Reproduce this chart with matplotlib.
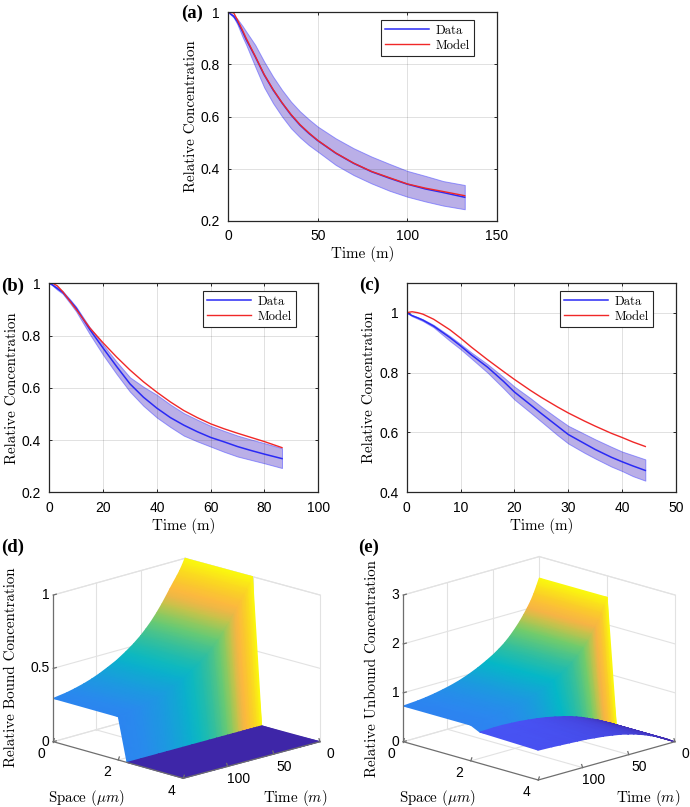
import numpy as np
import matplotlib
matplotlib.use("Agg")
import matplotlib.pyplot as plt
from matplotlib.colors import LinearSegmentedColormap

W, H = 690, 807
plt.rcParams["mathtext.fontset"] = "cm"
plt.rcParams["axes.formatter.use_mathtext"] = False

NUM_FONT = "Liberation Sans"
TEXT_FONT = "cmr10"
BLUE = "#2a2af5"
RED = "#f02828"

# panel (a)
a_time = [0, 3, 5, 8, 10, 15, 20, 25, 30, 35, 40, 45, 50, 60, 70, 80, 90, 100, 110, 120, 132]
a_data = [1, .985, .965, .925, .895, .83, .76, .702, .652, .606, .567, .535, .507, .459, .42, .388, .363, .34, .322, .308, .29]
a_model = [1, .998, .972, .93, .9, .832, .762, .704, .653, .608, .569, .537, .508, .46, .421, .389, .365, .341, .325, .312, .296]
a_upper = [1, .988, .975, .947, .926, .875, .811, .753, .702, .657, .62, .589, .561, .516, .478, .446, .418, .391, .372, .352, .337]
a_lower = [1, .98, .955, .905, .875, .792, .712, .651, .6, .555, .52, .49, .465, .414, .375, .343, .315, .292, .274, .258, .244]

# panel (b)
b_time = [0, 1, 3, 5, 8, 10, 15, 20, 25, 30, 35, 40, 45, 50, 55, 60, 65, 70, 75, 80, 86.5]
b_data = [1, .995, .98, .965, .93, .905, .824, .752, .682, .615, .564, .522, .486, .457, .432, .41, .393, .375, .36, .346, .329]
b_model = [1, 1.002, .99, .968, .927, .9, .83, .772, .718, .668, .623, .583, .546, .513, .486, .462, .443, .426, .41, .394, .371]
b_upper = [1, .997, .985, .97, .935, .91, .832, .765, .70, .64, .604, .573, .536, .503, .478, .454, .435, .417, .402, .388, .369]
b_lower = [1, .993, .975, .96, .92, .892, .806, .726, .653, .585, .531, .486, .45, .417, .395, .375, .355, .337, .324, .311, .293]

# panel (c)
c_time = [0, 1, 2, 3, 5, 8, 10, 12, 15, 18, 20, 23, 25, 28, 30, 33, 35, 38, 40, 42, 44.3]
c_data = [1, .99, .983, .975, .955, .917, .889, .859, .818, .77, .735, .692, .663, .621, .593, .563, .543, .517, .502, .488, .473]
c_model = [1, 1.003, 1, .995, .978, .943, .915, .885, .843, .803, .777, .74, .717, .685, .665, .638, .621, .597, .583, .568, .553]
c_upper = [1, .992, .985, .978, .959, .922, .895, .867, .828, .784, .753, .714, .686, .647, .622, .595, .577, .552, .536, .524, .51]
c_lower = [1, .988, .98, .972, .951, .906, .878, .847, .80, .747, .71, .666, .636, .591, .563, .532, .513, .486, .471, .454, .439]

# surfaces (d) and (e): read along edges of the plots
surf_time = [0, 3, 6, 9, 13, 17, 21, 26, 32, 38, 44, 50, 58, 67, 77, 87, 96, 105, 114, 124, 133, 148]
bound_plateau = [1, .96, .925, .895, .858, .82, .78, .732, .68, .633, .592, .555, .513, .473, .433, .402, .376, .354, .336, .32, .308, .295]
unbound_plateau = [2.56, 2.41, 2.27, 2.15, 2.02, 1.90, 1.79, 1.67, 1.54, 1.43, 1.34, 1.26, 1.17, 1.08, .995, .925, .875, .835, .80, .77, .75, .73]
unbound_ridge = [0, .03, .07, .1, .14, .18, .22, .26, .31, .36, .4, .44, .48, .52, .56, .59, .61, .63, .64, .65, .65, .64]
unbound_far = [0, .03, .07, .1, .14, .18, .22, .26, .31, .35, .39, .42, .46, .49, .52, .54, .56, .57, .58, .59, .6, .61]
front_space = [0, 2.0, 2.27]
far_space = [2.27, 4.0]

parula = LinearSegmentedColormap.from_list("parula_like", [
    (0.0, (0.2422, 0.1504, 0.6603)),
    (0.125, (0.2810, 0.3228, 0.9579)),
    (0.3, (0.17, 0.53, 0.94)),
    (0.455, (0.02, 0.72, 0.78)),
    (0.55, (0.2, 0.75, 0.62)),
    (0.655, (0.45, 0.80, 0.42)),
    (0.73, (0.75, 0.77, 0.30)),
    (0.8, (0.99, 0.70, 0.27)),
    (0.9, (0.98, 0.82, 0.15)),
    (1.0, (0.98, 0.98, 0.05)),
])

fig = plt.figure(figsize=(W / 100, H / 100), dpi=100)


def axes_px(left, top, right, bottom):
    return fig.add_axes([left / W, 1 - bottom / H, (right - left) / W, (bottom - top) / H])


def curve_panel(box, legend_box, time, data, model, upper, lower, xlim, xticks, ylim, yticks, letter, letter_xy):
    ax = axes_px(*box)
    ax.fill_between(time, lower, upper, facecolor=(0.36, 0.26, 0.78, 0.42),
                    edgecolor=(0.35, 0.35, 1.0, 0.6), linewidth=0.7)
    ax.plot(time, data, color=BLUE, lw=1.1, label="Data")
    ax.plot(time, model, color=RED, lw=1.0, label="Model")
    ax.set_xlim(*xlim)
    ax.set_ylim(*ylim)
    ax.set_xticks(xticks)
    ax.set_xticklabels([str(t) for t in xticks], fontfamily=NUM_FONT, fontsize=10)
    ax.set_yticks(yticks)
    ax.set_yticklabels([f"{t:g}" for t in yticks], fontfamily=NUM_FONT, fontsize=10)
    ax.tick_params(direction="in", top=True, right=True, length=2.5, width=0.7, color="#262626", pad=6)
    ax.grid(True, color="#262626", alpha=0.14, lw=0.7)
    for sp in ax.spines.values():
        sp.set_color("#262626")
        sp.set_linewidth(0.9)
    ax.set_xlabel("Time (m)", fontfamily=TEXT_FONT, fontsize=10.8)
    ax.set_ylabel("Relative Concentration", fontfamily=TEXT_FONT, fontsize=10.8)
    bw = box[2] - box[0]
    bh = box[3] - box[1]
    ax.xaxis.set_label_coords(0.5, -25.5 / bh)
    ax.yaxis.set_label_coords(-30.5 / bw, 0.5)
    leg = ax.legend(loc="upper right", fancybox=False, framealpha=1, edgecolor="#262626",
                    borderaxespad=0, handlelength=3.4, labelspacing=0.25, handletextpad=0.5,
                    borderpad=0.35,
                    bbox_to_anchor=((legend_box[2] - box[0]) / bw, 1 - (legend_box[1] - box[1]) / bh),
                    prop={"family": TEXT_FONT, "size": 9.2})
    leg.get_frame().set_linewidth(0.8)
    fig.text(letter_xy[0] / W, 1 - letter_xy[1] / H, letter, fontfamily="Liberation Serif",
             fontweight="bold", fontsize=13.5, ha="center", va="center")
    return ax


curve_panel((228.3, 12.3, 497, 220.7), (384, 20, 474, 55), a_time, a_data, a_model, a_upper, a_lower,
            (0, 150), [0, 50, 100, 150], (0.2, 1), [0.2, 0.4, 0.6, 0.8, 1], "(a)", (192, 13))
curve_panel((49.3, 283.3, 318.3, 492.3), (206, 291, 296, 327), b_time, b_data, b_model, b_upper, b_lower,
            (0, 100), [0, 20, 40, 60, 80, 100], (0.2, 1), [0.2, 0.4, 0.6, 0.8, 1], "(b)", (13, 286))
curve_panel((406.7, 282.7, 676, 492.3), (563, 291, 653, 327), c_time, c_data, c_model, c_upper, c_lower,
            (0, 50), [0, 10, 20, 30, 40, 50], (0.4, 1.1), [0.4, 0.6, 0.8, 1], "(c)", (369, 285))


class BoxView:
    """Maps (space, time, z) to figure pixels from the four floor corners of the box."""

    def __init__(self, left, front, right, back, height, zmax):
        self.left, self.front = np.array(left, float), np.array(front, float)
        self.right, self.back = np.array(right, float), np.array(back, float)
        self.height, self.zmax = height, zmax

    def __call__(self, space, time, z):
        u = np.asarray(space, float) / 4.0
        v = np.asarray(time, float) / 148.0
        z = np.asarray(z, float)
        x = ((1 - u) * (1 - v) * self.back[0] + u * (1 - v) * self.right[0]
             + (1 - u) * v * self.left[0] + u * v * self.front[0])
        y = ((1 - u) * (1 - v) * self.back[1] + u * (1 - v) * self.right[1]
             + (1 - u) * v * self.left[1] + u * v * self.front[1])
        return x, y - z / self.zmax * self.height


def surface_mesh(ax, view, spaces, times, z_rows, c_rows):
    sp, tm = np.meshgrid(spaces, times, indexing="ij")
    x, y = view(sp, tm, np.array(z_rows))
    ax.pcolormesh(x, y, np.array(c_rows), shading="gouraud", cmap=parula, vmin=0, vmax=1, zorder=3)


def box_frame(ax, view, zticks, ztick_labels):
    grid_kw = dict(color="#e2e2e2", lw=0.8, zorder=1)
    zmax = view.zmax
    for t in [0, 50, 100, 148]:
        ax.plot(*view([0, 0], [t, t], [0, zmax]), **grid_kw)
    for t in [50, 100]:
        ax.plot(*view([0, 4], [t, t], [0, 0]), **grid_kw)
    for s in [2, 4]:
        ax.plot(*view([s, s], [0, 0], [0, zmax]), **grid_kw)
    for s in [0, 2]:
        ax.plot(*view([s, s], [0, 148], [0, 0]), **grid_kw)
    for z in list(zticks) + [zmax]:
        ax.plot(*view([0, 0], [148, 0], [z, z]), **grid_kw)
        ax.plot(*view([0, 4], [0, 0], [z, z]), **grid_kw)
    axis_kw = dict(color="#6e6e6e", lw=0.9, zorder=5)
    ax.plot(*view([0, 0], [148, 148], [0, zmax]), **axis_kw)
    ax.plot(*view([0, 4], [148, 148], [0, 0]), **axis_kw)
    ax.plot(*view([4, 4], [148, 0], [0, 0]), **axis_kw)
    num = dict(fontfamily=NUM_FONT, fontsize=10, ha="center", va="center", zorder=6)
    for z, lab in zip(zticks, ztick_labels):
        x, y = view(0, 148, z)
        ax.plot([x, x + 3], [y, y - 0.8], **axis_kw)
        ax.text(x - 4, y, lab, **{**num, "ha": "right"})
    for s in [0, 2, 4]:
        x, y = view(s, 148, 0)
        ax.plot([x, x + 1], [y, y - 3], **axis_kw)
        ax.text(x - 11.5, y + 12.5, str(s), **num)
    for t in [0, 50, 100]:
        x, y = view(4, t, 0)
        ax.plot([x, x - 1], [y, y - 3], **axis_kw)
        ax.text(x + 10.5, y + 12.5, str(t), **num)


overlay = fig.add_axes([0, 0, 1, 1])
overlay.set_xlim(0, W)
overlay.set_ylim(H, 0)
overlay.axis("off")
overlay.patch.set_alpha(0)

zero_row = [0.0] * len(surf_time)

# panel (d)
view_d = BoxView((53.3, 741.7), (183.3, 778.3), (320, 741.7), (185, 705), 146.7, 1.0)
box_frame(overlay, view_d, [0, 0.5, 1], ["0", "0.5", "1"])
surface_mesh(overlay, view_d, front_space, surf_time,
             [bound_plateau, bound_plateau, zero_row],
             [bound_plateau, bound_plateau, bound_plateau])
surface_mesh(overlay, view_d, far_space, surf_time, [zero_row, zero_row], [zero_row, zero_row])

# panel (e)
view_e = BoxView((403.3, 741.7), (538.3, 780), (675, 741.7), (539.3, 703.3), 146.7, 3.0)
box_frame(overlay, view_e, [0, 1, 2, 3], ["0", "1", "2", "3"])
plateau_c = np.array(unbound_plateau) / 2.56
surface_mesh(overlay, view_e, front_space, surf_time,
             [unbound_plateau, unbound_plateau, unbound_ridge],
             [plateau_c, plateau_c, plateau_c])
surface_mesh(overlay, view_e, far_space, surf_time,
             [unbound_ridge, unbound_far],
             [np.array(unbound_ridge) / 5.0, np.array(unbound_far) / 5.0])

label_kw = dict(fontfamily=TEXT_FONT, fontsize=10.8, ha="center", va="center", zorder=6)
overlay.text(86, 798, r"Space ($\mu m$)", **label_kw)
overlay.text(295, 798, r"Time ($m$)", **label_kw)
overlay.text(437, 798, r"Space ($\mu m$)", **label_kw)
overlay.text(648, 798, r"Time ($m$)", **label_kw)
overlay.text(11, 667, "Relative Bound Concentration", rotation=90, **label_kw)
overlay.text(372, 668.7, "Relative Unbound Concentration", rotation=90, **label_kw)
for letter, lx, ly in [("(d)", 13, 547), ("(e)", 369, 547)]:
    overlay.text(lx, ly, letter, fontfamily="Liberation Serif", fontweight="bold", fontsize=13.5,
                 ha="center", va="center")

fig.savefig("out.png", dpi=100)
plt.close(fig)
